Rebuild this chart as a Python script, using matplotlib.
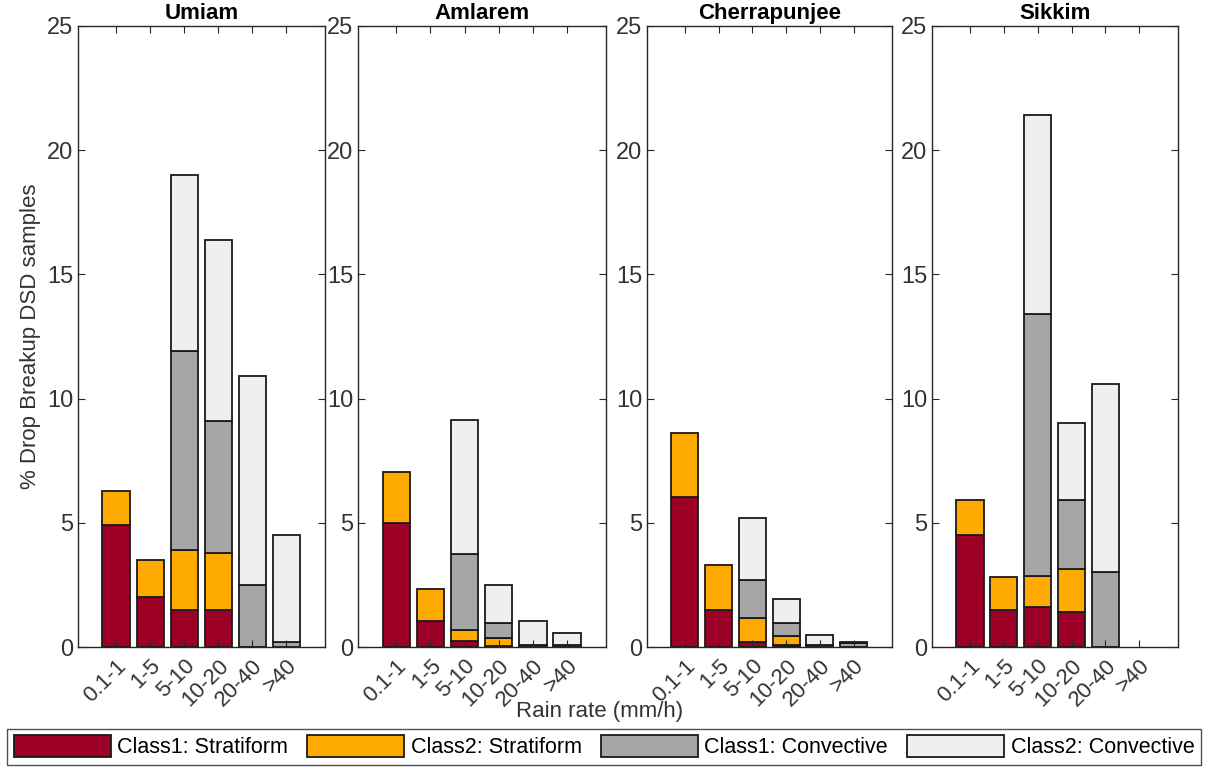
import numpy as np
import matplotlib.pyplot as plt
from matplotlib.patches import Patch

# # Data ________________________________________________________________
sites = ["Umiam", "Amlarem", "Cherrapunjee", "Sikkim"]
rain_bins = ["0.1-1", "1-5", "5-10", "10-20", "20-40", ">40"]
classes = ["Class1: Stratiform", "Class2: Stratiform", "Class1: Convective", "Class2: Convective"]

# segment heights (% of samples) per class, per rain rate bin
umiam_c1s = [4.9, 2.0, 1.5, 1.5, 0, 0]
umiam_c2s = [1.4, 1.5, 2.4, 2.3, 0, 0]
umiam_c1c = [0, 0, 8.0, 5.3, 2.5, 0.2]
umiam_c2c = [0, 0, 7.1, 7.3, 8.4, 4.3]

amlarem_c1s = [5.0, 1.05, 0.25, 0.05, 0, 0]
amlarem_c2s = [2.05, 1.3, 0.45, 0.3, 0, 0]
amlarem_c1c = [0, 0, 3.05, 0.6, 0.1, 0.1]
amlarem_c2c = [0, 0, 5.4, 1.55, 0.95, 0.45]

cherra_c1s = [6.05, 1.5, 0.2, 0.1, 0, 0]
cherra_c2s = [2.55, 1.8, 0.95, 0.35, 0, 0]
cherra_c1c = [0, 0, 1.55, 0.5, 0.1, 0.15]
cherra_c2c = [0, 0, 2.5, 1.0, 0.4, 0.05]

sikkim_c1s = [4.5, 1.5, 1.6, 1.4, 0, 0]
sikkim_c2s = [1.4, 1.3, 1.25, 1.75, 0, 0]
sikkim_c1c = [0, 0, 10.55, 2.75, 3.0, 0]
sikkim_c2c = [0, 0, 8.0, 3.1, 7.6, 0]

site_data = [
    [umiam_c1s, umiam_c2s, umiam_c1c, umiam_c2c],
    [amlarem_c1s, amlarem_c2s, amlarem_c1c, amlarem_c2c],
    [cherra_c1s, cherra_c2s, cherra_c1c, cherra_c2c],
    [sikkim_c1s, sikkim_c2s, sikkim_c1c, sikkim_c2c],
]

colors = ["#9c0026", "#ffaa00", "#a6a6a6", "#efefef"]
axcol = "#262626"

plt.rcParams["font.family"] = ["Liberation Sans", "DejaVu Sans"]

fig = plt.figure(figsize=(12.08, 7.68), dpi=100)
W, H = 1208.0, 768.0
# axes boxes in pixels (left, right)
boxes = [(78, 325), (358, 606), (647, 892), (932, 1178)]
top, bottom = 26, 647

x = np.arange(1, 7)
for i, (l, r) in enumerate(boxes):
    ax = fig.add_axes([l / W, 1 - bottom / H, (r - l) / W, (bottom - top) / H])
    base = np.zeros(6)
    for vals, c in zip(site_data[i], colors):
        vals = np.array(vals, dtype=float)
        mask = vals > 0
        ax.bar(x[mask], vals[mask], bottom=base[mask], width=0.8, color=c,
               edgecolor="#1a1a1a", linewidth=1.3)
        base += vals
    ax.set_xlim(-0.12, 7.14)
    ax.set_ylim(0, 25)
    ax.set_yticks([0, 5, 10, 15, 20, 25])
    ax.set_xticks(x)
    ax.set_xticklabels(rain_bins, rotation=45, ha="right", rotation_mode="anchor")
    ax.tick_params(direction="in", top=True, right=True, length=5, width=0.8,
                   colors=axcol, labelsize=17, labelcolor="#333333")
    ax.tick_params(axis="x", pad=6, labelsize=16)
    for s in ax.spines.values():
        s.set_color(axcol)
        s.set_linewidth(1.0)
    ax.set_title(sites[i], fontsize=16, fontweight="bold", color="black", pad=5)
    if i == 0:
        ax.set_ylabel("% Drop Breakup DSD samples", fontsize=16, color="#333333", labelpad=4)

fig.text(600 / W, 1 - 712 / H, "Rain rate (mm/h)", ha="center", va="center",
         fontsize=16, color="#333333")

handles = [Patch(facecolor=c, edgecolor="#1a1a1a", linewidth=1.3) for c in colors]
leg = fig.legend(handles, classes, loc="lower center", bbox_to_anchor=(0.5, 0.0),
                 ncol=4, frameon=True, fancybox=False,
                 prop={"size": 15.5},
                 handlelength=4.5, handleheight=1.2, columnspacing=0.9,
                 handletextpad=0.3, borderpad=0.3, borderaxespad=0.15)
leg.get_frame().set_edgecolor(axcol)
leg.get_frame().set_linewidth(1.0)

fig.savefig("out.png", dpi=100)
